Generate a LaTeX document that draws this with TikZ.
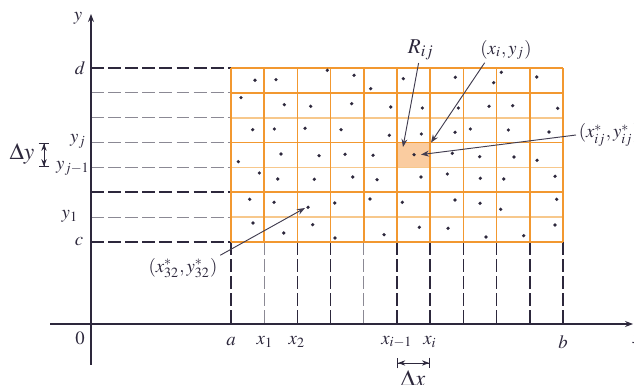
\documentclass[tikz,border=0pt]{standalone}
\usepackage{mathptmx}
\usepackage{tikz}
\usetikzlibrary{arrows.meta,positioning}
\definecolor{ink}{RGB}{45,40,60}
\definecolor{tangerine}{RGB}{242,152,48}
\definecolor{peach}{RGB}{247,200,140}
\definecolor{apricot}{RGB}{250,204,160}
\tikzset{
  >={Stealth[length=1.2mm,width=0.9mm]},
  axis/.style={->,ink,line width=0.45pt},
  meshline/.style={draw=#1,line width=0.75pt},
  meshline/.default=tangerine,
  guide/.style={ink,line width=0.7pt,dash pattern=on 5.5pt off 1.8pt},
  guide light/.style={ink!55,line width=0.5pt,dash pattern=on 5.5pt off 1.8pt},
  pointer/.style={->,ink!90,line width=0.4pt},
  span/.style={arrows={Bar[width=4.5pt]Stealth[length=1.1mm,width=0.8mm]-Stealth[length=1.1mm,width=0.8mm]Bar[width=4.5pt]},ink,line width=0.4pt},
  lbl/.style={text=ink,inner sep=1pt,font=\footnotesize},
  big lbl/.style={lbl,font=\normalsize},
  sample/.style={fill=ink},
}

\begin{document}
\begin{tikzpicture}[x=0.15mm,y=-0.15mm]
        \useasboundingbox (0,0) rectangle (634,385);
        \fill[apricot] (397,142.6) rectangle (430.2,167.4);
        % dashed guides to the axes
        \foreach \j in {1,2,3,4,6} \draw[guide light] (91,68+24.857*\j) -- (231,68+24.857*\j);
        \foreach \j in {0,5,7} \draw[guide] (91,68+24.857*\j) -- (231,68+24.857*\j);
        \foreach \i in {1,4} \draw[guide light] (231+33.2*\i,242) -- (231+33.2*\i,324);
        \foreach \i in {0,2,3,5,6,7,8,9,10} \draw[guide] (231+33.2*\i,242) -- (231+33.2*\i,324);
        % the grid
        \foreach \j in {2,4,6} \draw[meshline=peach] (231,68+24.857*\j) -- (563,68+24.857*\j);
        \foreach \j in {0,1,3,5,7} \draw[meshline] (231,68+24.857*\j) -- (563,68+24.857*\j);
        \foreach \i in {0,...,10} \draw[meshline] (231+33.2*\i,68) -- (231+33.2*\i,242);
        \foreach \p in {(255,80.3),(276,79.7),(327.3,70.3),(354,75.3),(370.7,88.7),(403.3,78.7),(455.3,77.3),(493.7,82.7),(501.3,72.3),(536.7,77),
          (241,97.7),(284.3,104.7),(310.7,106.3),(351.7,103.7),(390.7,107),(422.3,108),(458.3,108),(489,106.3),(512.7,105.7),(557.7,108.3),
          (252.7,129.7),(274.3,129),(305,128.3),(341,129.7),(389.3,135.3),(421.3,134),(455,132.3),(470.3,129),(508.3,130),(549,132),
          (238.3,161.7),(281,154),(319,155.7),(345,154.3),(373,155.3),(414,154.7),(452.3,153.3),(479.7,156.7),(514,157),(537,160.3),
          (259.3,173),(277.7,179),(314.3,179.3),(352.7,177),(377,179.7),(421,177),(447.3,174),(480.3,178.3),(503.7,179),(555,176.3),
          (249.7,199.3),(274,202.3),(308,207.3),(334.7,203),(370,199),(402.3,202.3),(455,200),(480,203.3),(500.7,209.3),(556.7,199.3),
          (253,223),(283.7,233),(312.7,224.7),(335,238),(384,234.7),(419.3,227.3),(448,228.3),(486,237),(523.7,235.7),(555,225)}
          \fill[sample] \p circle (0.27mm);
        % axes
        \coordinate (xstart) at (50,324);
        \coordinate (xend) at (633,324);
        \coordinate (ystart) at (91,365);
        \coordinate (yend) at (91,14);
        \draw[axis] (xstart) -- (xend);
        \draw[axis] (ystart) -- (yend);
        \node[lbl] (ylab) at (78,18) {$y$};
        \node[lbl] (xlab) at (637,340) {$x$};
        \node[lbl] (orig) at (80,338) {$0$};
        \node[lbl] (d) at (80,68) {$d$};
        \node[lbl] (yj) at (78,141) {$y_j$};
        \node[lbl] (yj1) at (73,168) {$y_{j-1}$};
        \node[lbl] (y1) at (70,216) {$y_1$};
        \node[lbl] (c) at (79,242) {$c$};
        \node[lbl] (a) at (231,342) {$a$};
        \node[lbl] (x1) at (265,342) {$x_1$};
        \node[lbl] (x2) at (297,342) {$x_2$};
        \node[lbl] (xi1) at (397,342) {$x_{i-1}$};
        \node[lbl] (xi) at (430,342) {$x_i$};
        \node[lbl] (b) at (563,342) {$b$};
        % increments
        \coordinate (dytop) at (44,142.6);
        \coordinate (dybot) at (44,167.4);
        \coordinate (dxleft) at (397,363);
        \coordinate (dxright) at (430.2,363);
        \draw[span] (dytop) -- (dybot);
        \draw[span] (dxleft) -- (dxright);
        \node[big lbl] (dy) at (22,154) {$\Delta y$};
        \node[big lbl] (dx) at (413,379) {$\Delta x$};
        % callouts
        \node[lbl,font=\small] (R) at (421,50) {$R_{ij}$};
        \node[lbl] (xy) at (506,50) {$(x_i, y_j)$};
        \node[lbl,anchor=west] (xsij) at (576,135) {$(x^*_{ij}, y^*_{ij})$};
        \node[lbl] (xs32) at (183,268) {$(x^*_{32}, y^*_{32})$};
        \coordinate (Rtip) at (403,147);
        \coordinate (corner) at (431,142.6);
        \coordinate (star) at (421,154.6);
        \coordinate (star32) at (305,208);
        \draw[pointer] (R) -- (Rtip);
        \draw[pointer] ([xshift=3pt]xy.south west) -- (corner);
        \draw[pointer] (xsij.west) -- (star);
        \draw[pointer] (xs32.north east) -- (star32);
\end{tikzpicture}
\end{document}
